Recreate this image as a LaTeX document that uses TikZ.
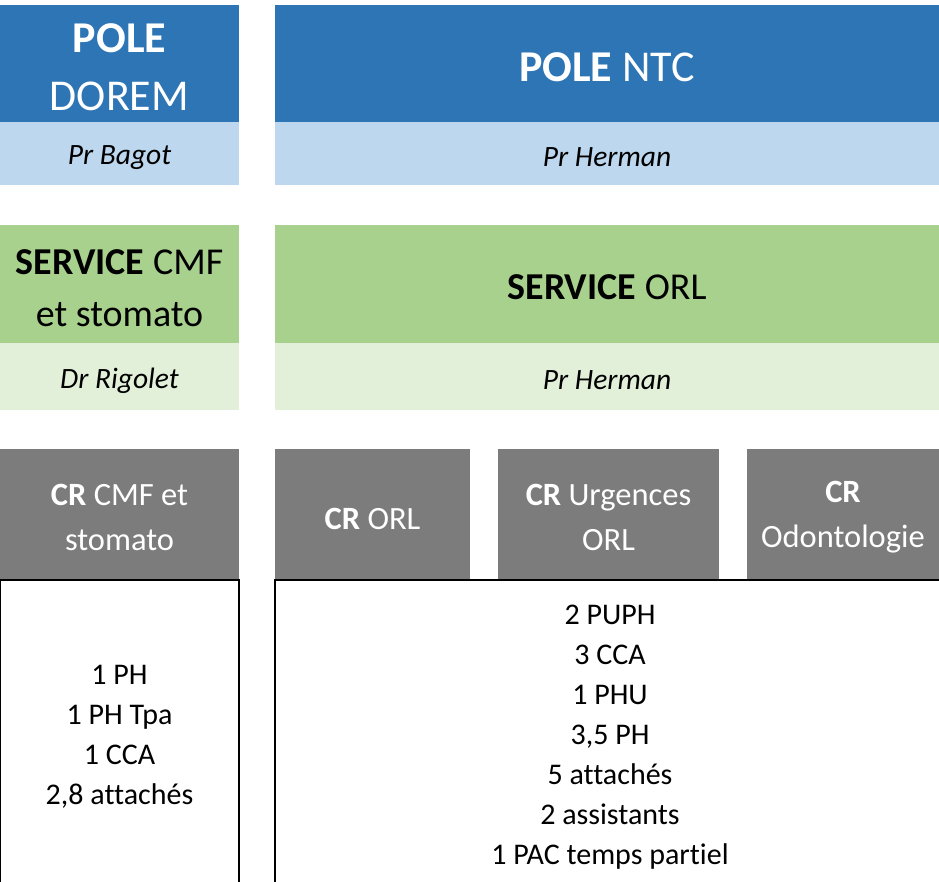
\documentclass[tikz,border=0pt]{standalone}
\usepackage{fontspec}
\setmainfont[Ligatures=NoCommon]{Carlito}
\definecolor{poleblue}{HTML}{2E75B6}
\definecolor{lightblue}{HTML}{BDD7EE}
\definecolor{servgreen}{HTML}{A9D18E}
\definecolor{lightgreen}{HTML}{E2F0D9}
\definecolor{crgray}{HTML}{7C7C7C}
\tikzset{
  cell/.style={anchor=north west, inner sep=0pt, outer sep=0pt},
  txt/.style={inner sep=0pt, outer sep=0pt, align=center},
  pole/.style={cell, fill=poleblue},
  poletxt/.style={txt, text=white, font=\fontsize{44}{58}\selectfont},
  polechief/.style={cell, fill=lightblue},
  chieftxt/.style={txt, font=\fontsize{29.5}{36}\selectfont\itshape},
  serv/.style={cell, fill=servgreen},
  servtxt/.style={txt, font=\fontsize{38}{52}\selectfont},
  servchief/.style={cell, fill=lightgreen},
  crbox/.style={cell, fill=crgray},
  crtxt/.style={txt, text=white, font=\fontsize{32.5}{45}\selectfont},
  staff/.style={cell, draw=black, line width=1.5pt},
  stafftxt/.style={txt, font=\fontsize{30}{40}\selectfont},
}
\begin{document}
\begin{tikzpicture}[x=1pt,y=-1pt]
\useasboundingbox (0,0) rectangle (939,882);
\clip (0,0) rectangle (939,882);
% poles
\node[pole, minimum width=239, minimum height=117] (poleD) at (0,5) {};
\node[pole, minimum width=664, minimum height=117] (poleN) at (275,5) {};
\node[polechief, minimum width=239, minimum height=63] (chefD) at (0,122) {};
\node[polechief, minimum width=664, minimum height=63] (chefN) at (275,122) {};
\node[poletxt] (tpoleD) at ([yshift=-4pt]poleD.center) {\textbf{POLE}\\DOREM};
\node[poletxt] (tpoleN) at ([yshift=-4pt]poleN.center) {\textbf{POLE} NTC};
\node[chieftxt] (tchefD) at ([yshift=-4pt]chefD.center) {Pr Bagot};
\node[chieftxt] (tchefN) at ([yshift=-4pt]chefN.center) {Pr Herman};
% services
\node[serv, minimum width=239, minimum height=118] (servC) at (0,225) {};
\node[serv, minimum width=664, minimum height=118] (servO) at (275,225) {};
\node[servchief, minimum width=239, minimum height=67] (chefC) at (0,343) {};
\node[servchief, minimum width=664, minimum height=67] (chefO) at (275,343) {};
\node[servtxt] (tservC) at ([yshift=-4pt]servC.center) {\textbf{SERVICE} CMF\\et stomato};
\node[servtxt] (tservO) at ([yshift=-3pt]servO.center) {\textbf{SERVICE} ORL};
\node[chieftxt] (tchefC) at ([yshift=-4pt]chefC.center) {Dr Rigolet};
\node[chieftxt] (tchefO) at ([yshift=-4pt]chefO.center) {Pr Herman};
% CR
\node[crbox, minimum width=239, minimum height=131] (crC) at (0,449) {};
\node[crbox, minimum width=195, minimum height=131] (crO) at (275,449) {};
\node[crbox, minimum width=221, minimum height=131] (crU) at (498,449) {};
\node[crbox, minimum width=192, minimum height=131] (crOd) at (747,449) {};
\node[crtxt] (tcrC) at ([yshift=-3pt]crC.center) {\textbf{CR} CMF et\\stomato};
\node[crtxt] (tcrO) at ([yshift=-4pt]crO.center) {\textbf{CR} ORL};
\node[crtxt] (tcrU) at ([yshift=-3pt]crU.center) {\textbf{CR} Urgences\\ORL};
\node[crtxt] (tcrOd) at ([yshift=-3pt]crOd.center) {\textbf{CR}\\Odontologie};
% staff
\node[staff, minimum width=239, minimum height=308] (staffC) at (0,580) {};
\node[staff, minimum width=670, minimum height=308] (staffO) at (275,580) {};
\node[stafftxt] (tstaffC) at ([yshift=-3pt]staffC.center) {1 PH\\1 PH Tpa\\1 CCA\\2,8 attachés};
\node[stafftxt] (tstaffO) at ([yshift=-3pt]staffO.center) {2 PUPH\\3 CCA\\1 PHU\\3,5 PH\\5 attachés\\2 assistants\\1 PAC temps partiel};
\end{tikzpicture}
\end{document}
